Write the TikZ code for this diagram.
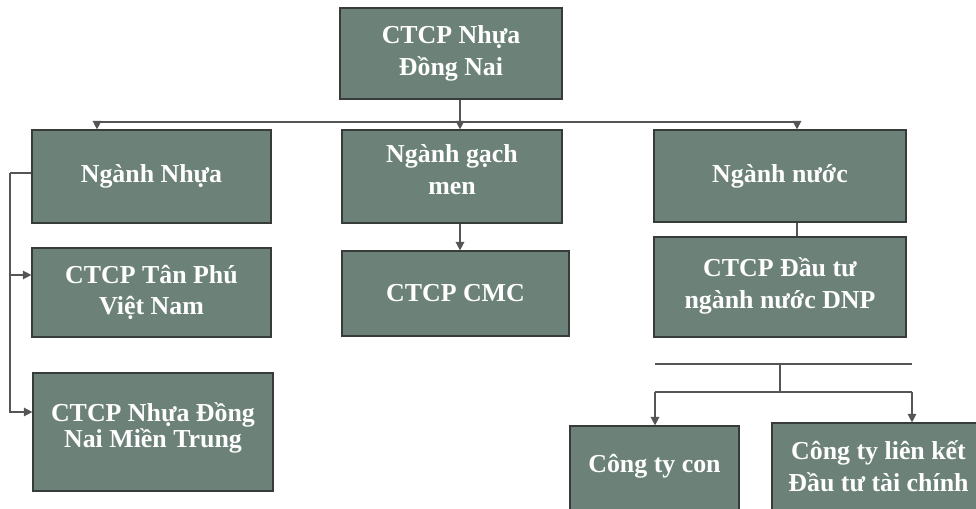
\documentclass[tikz,border=0pt]{standalone}
\usepackage{fontspec}
\setmainfont{Liberation Serif}
\usetikzlibrary{arrows.meta, positioning}
\definecolor{boxfill}{RGB}{108,130,120}
\definecolor{boxline}{RGB}{55,60,58}
\definecolor{linkgray}{RGB}{85,85,85}

\begin{document}
\begin{tikzpicture}[
  x=0.0125cm, y=-0.0125cm,
  orgbox/.style={
    draw=boxline, fill=boxfill, rectangle, inner sep=0pt,
    align=center, text=white,
    font=\fontsize{9.2}{11.3}\selectfont\bfseries
  },
  link/.style={draw=linkgray, line width=0.5pt},
  arrow/.style={link, -{Triangle[length=3pt, width=3pt]}}
]
\path[use as bounding box, clip] (0,0) rectangle (976,509);

% --- Top level ---
\node[orgbox, minimum width=2.775cm, minimum height=1.1375cm] (root) at (451,53.5) {CTCP Nhựa\\Đồng Nai};

% --- Business lines ---
\node[orgbox, minimum width=2.9875cm, minimum height=1.1625cm] (nhua) at (151.5,176.5) {Ngành Nhựa};
\node[orgbox, minimum width=2.75cm, minimum height=1.1625cm, text depth=5pt] (gach) at (452,176.5) {Ngành gạch\\men};
\node[orgbox, minimum width=3.15cm, minimum height=1.15cm] (nuoc) at (780,176) {Ngành nước};

% --- Companies ---
\node[orgbox, minimum width=2.9875cm, minimum height=1.1125cm] (tanphu) at (151.5,292.5) {CTCP Tân Phú\\Việt Nam};
\node[orgbox, minimum width=3.0cm, minimum height=1.475cm, text depth=5pt,
  font=\fontsize{9.2}{9}\selectfont\bfseries] (mientrung) at (153,432) {CTCP Nhựa Đồng\\Nai Miền Trung};
\node[orgbox, minimum width=2.8375cm, minimum height=1.0625cm] (cmc) at (455.5,293.5) {CTCP CMC};
\node[orgbox, minimum width=3.15cm, minimum height=1.25cm, text depth=3pt] (dnp) at (780,287) {CTCP Đầu tư\\ngành nước DNP};
\node[orgbox, minimum width=2.1125cm, minimum height=1.175cm, text depth=7pt] (con) at (654.5,473) {Công ty con};
\node[orgbox, minimum width=2.6625cm, minimum height=1.2125cm, text depth=4pt] (lienket) at (878.5,471.5) {Công ty liên kết\\Đầu tư tài chính};

% --- Top bus ---
\coordinate (busL) at (97,122);
\coordinate (busM) at (460,122);
\coordinate (busR) at (797,122);
\draw[link] (busL) -- (busR);
\draw[arrow] (root.south -| busM) -- (busM |- gach.north);
\draw[arrow] (busL) -- (busL |- nhua.north);
\draw[arrow] (busR) -- (busR |- nuoc.north);
\draw[arrow] (gach.south -| busM) -- (busM |- cmc.north);
\draw[link] (nuoc.south -| busR) -- (busR |- dnp.north);

% --- Left bracket for plastics ---
\coordinate (lbus) at (10,173);
\coordinate (lmid) at (10,275);
\coordinate (ltail) at (10,412);
\draw[link] (nhua.west |- lbus) -- (lbus);
\draw[arrow] (lbus) |- (lmid -| tanphu.west);
\draw[arrow] (lbus) |- (ltail -| mientrung.west);

% --- Subsidiaries / associates ---
\coordinate (subL) at (655,364);
\coordinate (subR) at (912,364);
\coordinate (stem) at (780,364);
\coordinate (splitL) at (655,392);
\coordinate (splitR) at (912,392);
\draw[link, line width=0.7pt] (subL) -- (subR);
\draw[link] (stem) -- (stem |- splitL);
\draw[link] (splitL) -- (splitR);
\draw[arrow] (splitL) -- (splitL |- con.north);
\draw[arrow] (splitR) -- (splitR |- lienket.north);

\end{tikzpicture}
\end{document}
